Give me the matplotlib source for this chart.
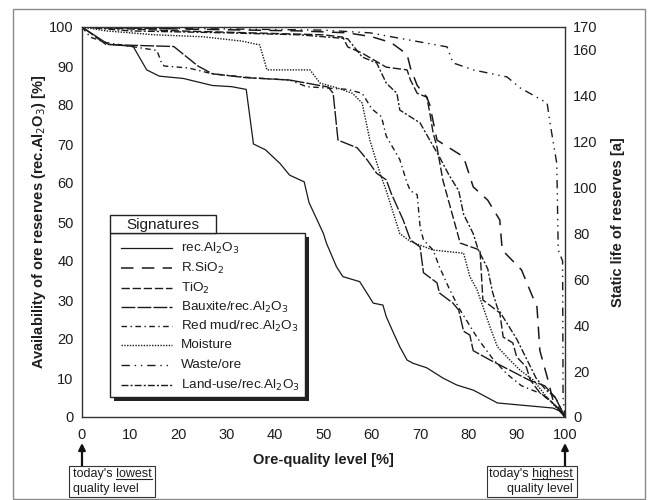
import matplotlib
matplotlib.use("Agg")
import matplotlib.pyplot as plt
from matplotlib.patches import Rectangle
from matplotlib.lines import Line2D

plt.rcParams['font.family'] = ['Liberation Sans', 'DejaVu Sans']
plt.rcParams['lines.scale_dashes'] = False

# ---- data: ore-quality level [%] vs availability of reserves [%] ----
rec_al2o3_x = [0, 5.4, 10.6, 13.4, 16, 21, 27, 31, 34, 35.5, 38, 41, 43, 46, 47, 50, 50.6, 52.7, 54,
               57.5, 60.3, 62.3, 63, 64.4, 65.8, 67.3, 68.5, 71.4, 74.7, 77.6, 81, 83, 86, 97.5, 99, 100]
rec_al2o3_y = [100, 95.6, 95, 89, 87.4, 86.8, 85, 84.7, 84, 70, 68.5, 65, 62, 60.3, 55, 47, 44.6, 38.5, 36,
               34.7, 29.2, 28.7, 25.7, 21.8, 18, 14.6, 13.8, 12.6, 10, 8.2, 6.9, 5.6, 3.6, 2.3, 1.5, 0]

rsio2_x = [0, 20, 45, 55, 60, 64, 67.3, 68, 69.4, 71.4, 72, 73.5, 79, 81, 84, 86.5, 87, 91, 92.7, 94.2,
           94.8, 96.3, 97.5, 100]
rsio2_y = [100, 99.5, 99, 98.5, 97.5, 96, 93, 89.5, 85, 82, 80, 71, 66.7, 59, 55.6, 50.5, 42.8, 37.7,
           32.6, 28.2, 17, 10.3, 4.4, 0]

tio2_x = [0, 20, 50, 54, 55, 58, 63, 67.3, 68, 69.4, 71.4, 72, 72.7, 73.5, 74.7, 78.3, 82.4, 83, 86.5,
          87.2, 89.2, 90, 92, 92.8, 94.8, 96.9, 100]
tio2_y = [100, 99, 98, 97.4, 94.9, 93.3, 89.7, 89, 86.4, 83, 82, 78, 72.8, 69.2, 60.8, 44.6, 42.8, 30,
          26.7, 20.5, 19, 15.4, 12.8, 9.5, 6.2, 4.4, 0]

bauxite_x = [0, 5, 19, 24, 27, 34, 43, 51, 52, 53, 57, 59, 61, 63, 64, 66.5, 68, 70, 70.7, 73.5, 74,
             76.8, 78, 79, 80.3, 81, 84.5, 88.6, 92.5, 95.8, 98, 100]
bauxite_y = [100, 95.5, 95, 90, 88, 87, 86.4, 84.6, 83, 71, 69, 66, 62.5, 60.8, 57.4, 50.5, 45.4, 43.6,
             37, 34.4, 31.8, 29.2, 27.4, 22, 21, 17, 14.6, 12, 9.5, 8, 5, 0]

redmud_x = [0, 1.7, 5, 15.5, 16.5, 17, 22, 27, 35, 43, 46.5, 55, 58, 60, 62, 63, 65.8, 67.3, 68, 69.4,
            70, 70.7, 72.7, 74, 76, 78, 80, 82, 85, 88, 91, 95, 98, 100]
redmud_y = [100, 97.4, 96, 94, 90.7, 90, 89.5, 88, 87, 86.4, 84.7, 84, 83, 79, 77, 72, 66, 60, 58, 57,
            48.7, 45.4, 42.8, 38.5, 33, 28, 24, 20, 15, 11, 8, 6, 3, 0]

moisture_x = [0, 5, 15, 25, 33, 36.8, 38.3, 47.2, 49.3, 52.8, 56, 58, 59.6, 61.7, 63, 65.8, 68, 72.7,
              79, 80.3, 81.8, 84.5, 86, 88.6, 90.7, 93.4, 96.3, 100]
moisture_y = [100, 99, 98, 97.5, 96.4, 95.4, 89, 89, 85.6, 84.4, 83, 80.5, 71, 62.5, 58, 47, 45, 42.8,
              42, 36, 32.6, 23, 18, 14.6, 12, 9.5, 5, 0]

waste_x = [0, 10, 30, 50, 59.6, 75.6, 76.8, 81, 88, 90.7, 96.3, 96.9, 98.3, 98.6, 99.5, 99.6, 100]
waste_y = [100, 99.7, 99.5, 99.2, 98.5, 94.9, 90.8, 89, 87.2, 84.4, 80.5, 75.4, 65, 42.8, 40, 5, 0]

landuse_x = [0, 10, 30, 45, 55, 58, 61, 63, 65.2, 65.8, 70, 72, 74, 76, 78, 79, 81, 82, 84, 85, 86, 88,
             90, 92, 94, 96, 98, 100]
landuse_y = [100, 99, 98.5, 98, 97, 92.3, 90.8, 85.6, 83, 78.7, 75.4, 71, 66.7, 62, 58, 52, 47, 43, 38,
             32, 28, 24, 20, 15, 10, 7, 5, 0]

series_labels = ["rec.Al$_2$O$_3$", "R.SiO$_2$", "TiO$_2$", "Bauxite/rec.Al$_2$O$_3$",
                 "Red mud/rec.Al$_2$O$_3$", "Moisture", "Waste/ore", "Land-use/rec.Al$_2$O$_3$"]

x_ticks = [0, 10, 20, 30, 40, 50, 60, 70, 80, 90, 100]
y_ticks = [0, 10, 20, 30, 40, 50, 60, 70, 80, 90, 100]
life_ticks = [0, 20, 40, 60, 80, 100, 120, 140, 160, 170]

# ---- styles ----
ink = "#1a1a1a"
styles = [
    dict(ls="-", lw=0.9),
    dict(ls=(0, (9, 6)), lw=1.1),
    dict(ls=(0, (6, 2)), lw=1.0),
    dict(ls=(0, (10, 1.5)), lw=1.0),
    dict(ls=(0, (4, 2.5, 1, 2.5)), lw=1.0),
    dict(ls=(0, (1, 1)), lw=1.0),
    dict(ls=(0, (6, 3.5, 1, 3.5, 1, 3.5)), lw=1.0),
    dict(ls=(0, (5, 1.5, 1.5, 1.5)), lw=1.0),
]

W, H = 649, 500
fig = plt.figure(figsize=(W / 100, H / 100), dpi=100)

def fx(px):
    return px / W

def fy(py):
    return 1 - py / H

# outer frame
fig.add_artist(Rectangle((fx(13), fy(499)), fx(645) - fx(13), fy(9) - fy(499),
                         transform=fig.transFigure, fill=False, ec="#8a8a8a", lw=1.0))

ax = fig.add_axes([fx(82), fy(417), fx(565) - fx(82), fy(27) - fy(417)])
series = [(rec_al2o3_x, rec_al2o3_y), (rsio2_x, rsio2_y), (tio2_x, tio2_y), (bauxite_x, bauxite_y),
          (redmud_x, redmud_y), (moisture_x, moisture_y), (waste_x, waste_y), (landuse_x, landuse_y)]
for (xs, ys), st in zip(series, styles):
    ax.plot(xs, ys, color=ink, **st, solid_joinstyle="miter")

ax.set_xlim(0, 100)
ax.set_ylim(0, 100)
ax.set_xticks(x_ticks)
ax.set_yticks(y_ticks)
ax.tick_params(length=0, labelsize=10.5, colors="#1e1e1e", pad=6)
ax.tick_params(axis="x", pad=8)
for s in ax.spines.values():
    s.set_color("#333333")
    s.set_linewidth(1.0)

ax2 = ax.twinx()
ax2.set_ylim(0, 170)
ax2.set_yticks(life_ticks)
ax2.tick_params(length=0, labelsize=10.5, colors="#1e1e1e", pad=6)
for s in ax2.spines.values():
    s.set_visible(False)

# axis titles
fig.text(fx(39), fy(222), "Availability of ore reserves (rec.Al$_2$O$_3$) [%]", rotation=90,
         ha="center", va="center", fontsize=10.5, fontweight="bold", color="#1e1e1e")
fig.text(fx(618), fy(222), "Static life of reserves [a]", rotation=90,
         ha="center", va="center", fontsize=10.5, fontweight="bold", color="#1e1e1e")
fig.text(fx(323), fy(460), "Ore-quality level [%]", ha="center", va="center",
         fontsize=10.5, fontweight="bold", color="#1e1e1e")

# legend panel drawn by hand
def frect(x0, y0, x1, y1, **kw):
    fig.add_artist(Rectangle((fx(x0), fy(y1)), fx(x1) - fx(x0), fy(y0) - fy(y1),
                             transform=fig.transFigure, **kw))

frect(114, 237, 309, 401, fc="#222222", ec="none")
frect(110, 233, 305, 397, fc="white", ec="#222222", lw=1.0)
frect(110, 215, 216, 233, fc="white", ec="#222222", lw=1.0)
fig.text(fx(163), fy(224.5), "Signatures", ha="center", va="center", fontsize=11, color="#1e1e1e")
row_y = [248, 268, 288, 307, 326, 345, 365, 385]
for lab, st, ry in zip(series_labels, styles, row_y):
    fig.add_artist(Line2D([fx(121), fx(172)], [fy(ry), fy(ry)], transform=fig.transFigure,
                          color=ink, **st))
    fig.text(fx(181), fy(ry), lab, ha="left", va="center", fontsize=9.7, color="#1e1e1e")

# quality-level markers below the axis
def marker_box(x_px, x0, x1, lines, align):
    frect(x0, 466, x1, 497, fc="white", ec="#333333", lw=0.8)
    ax.annotate("", xy=(fx(x_px), fy(443)), xytext=(fx(x_px), fy(466)),
                xycoords="figure fraction", textcoords="figure fraction",
                arrowprops=dict(arrowstyle="-|>", color="#111111", lw=1.6,
                                mutation_scale=10, shrinkA=0, shrinkB=0))
    tx = fx(x0 + 4) if align == "left" else fx(x1 - 4)
    t1 = fig.text(tx, fy(474), lines[0], ha=align, va="center", fontsize=9, color="#1e1e1e")
    fig.text(tx, fy(489), lines[1], ha=align, va="center", fontsize=9, color="#1e1e1e")
    return t1

t_low = marker_box(82, 69, 155, ["today's lowest", "quality level"], "left")
t_high = marker_box(565, 487, 577, ["today's highest", "quality level"], "right")

# underline the key word of each marker
renderer = fig.canvas.get_renderer()
for t, word in [(t_low, "lowest"), (t_high, "highest")]:
    bb = t.get_window_extent(renderer)
    probe = fig.text(0, 0, word, fontsize=9)
    wb = probe.get_window_extent(renderer)
    probe.remove()
    x1 = bb.x1
    x0 = x1 - wb.width
    yy = bb.y0 + 1
    fig.add_artist(Line2D([x0 / fig.bbox.width, x1 / fig.bbox.width],
                          [yy / fig.bbox.height, yy / fig.bbox.height],
                          transform=fig.transFigure, color="#222222", lw=0.8))

fig.savefig("out.png", dpi=100)
